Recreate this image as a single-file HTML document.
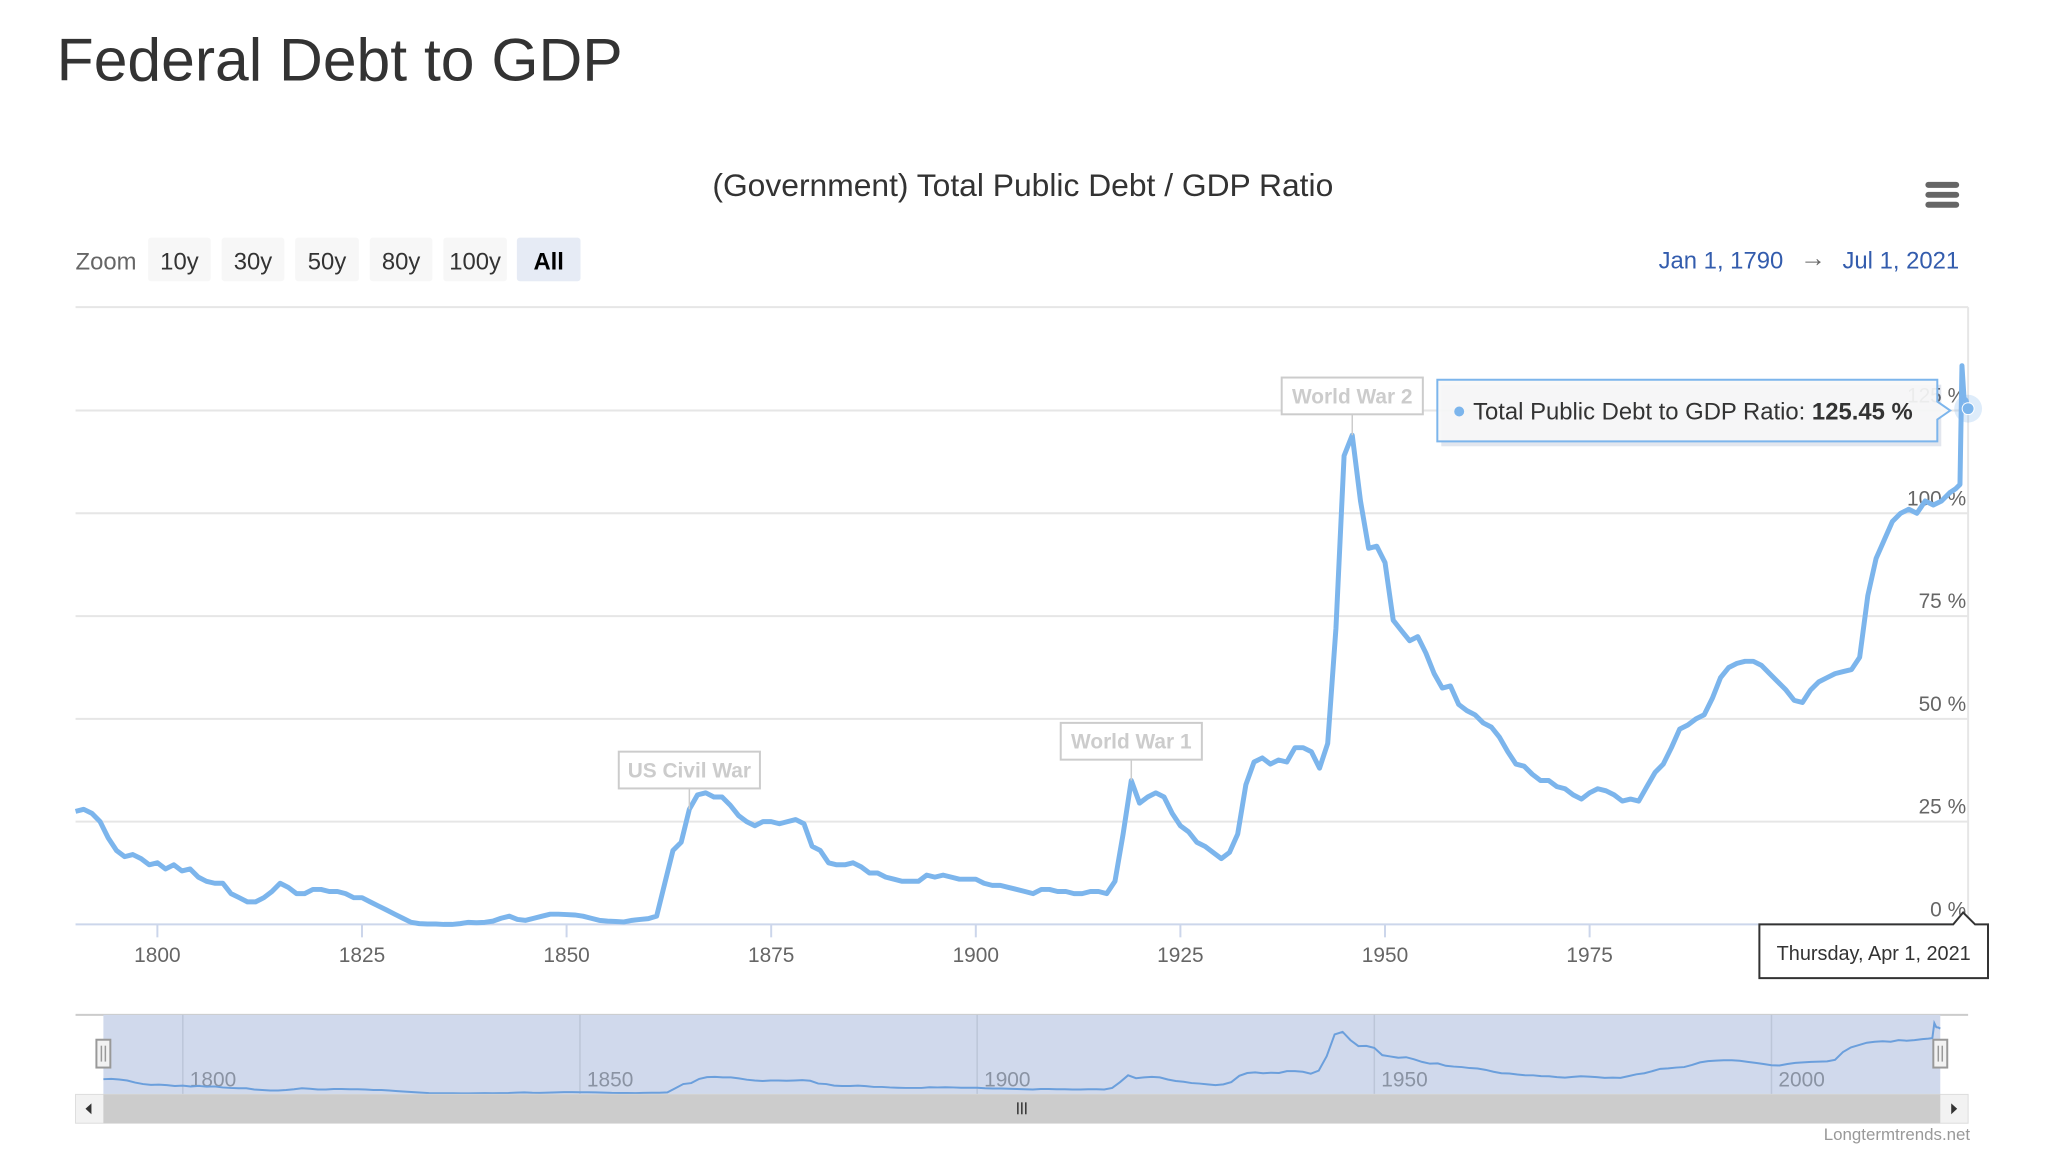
<!DOCTYPE html>
<html><head><meta charset="utf-8">
<style>
html,body{margin:0;padding:0;background:#fff;width:2048px;height:1162px;overflow:hidden;font-family:"Liberation Sans",Arial,sans-serif}
svg{position:absolute;left:0;top:0}
</style></head>
<body>
<svg width="2048" height="1162" viewBox="0 0 2048 1162" xmlns="http://www.w3.org/2000/svg" font-family="Liberation Sans, Arial, sans-serif">
<g transform="scale(0.994)">
<text x="57" y="81" font-size="61" fill="#333">Federal Debt to GDP</text>
<text x="1029" y="197" font-size="32" fill="#333" text-anchor="middle">(Government) Total Public Debt / GDP Ratio</text>
<g fill="#666">
<rect x="1937" y="183" width="34" height="6" rx="3"/><rect x="1937" y="193" width="34" height="6" rx="3"/><rect x="1937" y="203" width="34" height="6" rx="3"/>
</g>
<text x="76" y="271" font-size="24" fill="#666">Zoom</text>
<g font-size="24" text-anchor="middle">
<g><rect x="149" y="239" width="63" height="44" rx="3" fill="#f7f7f7"/><text x="180.5" y="271" fill="#333">10y</text></g>
<g><rect x="223" y="239" width="63" height="44" rx="3" fill="#f7f7f7"/><text x="254.5" y="271" fill="#333">30y</text></g>
<g><rect x="297" y="239" width="64" height="44" rx="3" fill="#f7f7f7"/><text x="329" y="271" fill="#333">50y</text></g>
<g><rect x="372" y="239" width="63" height="44" rx="3" fill="#f7f7f7"/><text x="403.5" y="271" fill="#333">80y</text></g>
<g><rect x="446" y="239" width="64" height="44" rx="3" fill="#f7f7f7"/><text x="478" y="271" fill="#333">100y</text></g>
<g><rect x="520" y="239" width="64" height="44" rx="3" fill="#e6ebf5"/><text x="552" y="271" fill="#000" font-weight="bold">All</text></g>
</g>
<text x="1794" y="270" font-size="24" fill="#335cad" text-anchor="end">Jan 1, 1790</text>
<text x="1824" y="268" font-size="26" fill="#666" text-anchor="middle">→</text>
<text x="1971" y="270" font-size="24" fill="#335cad" text-anchor="end">Jul 1, 2021</text>
<g id="grid"></g>
<g id="xaxis"></g>
<g id="series"></g>
<g id="annotations"></g>
<g id="nav"></g>
<g id="tips"></g>
<text x="1982" y="1147" font-size="17" fill="#999" text-anchor="end">Longtermtrends.net</text>
</g>
</svg>
<script>
const years = [1790,1791,1792,1793,1794,1795,1796,1797,1798,1799,1800,1801,1802,1803,1804,1805,1806,1807,1808,1809,1810,1811,1812,1813,1814,1815,1816,1817,1818,1819,1820,1821,1822,1823,1824,1825,1826,1827,1828,1829,1830,1831,1832,1833,1834,1835,1836,1837,1838,1839,1840,1841,1842,1843,1844,1845,1846,1847,1848,1849,1850,1851,1852,1853,1854,1855,1856,1857,1858,1859,1860,1861,1862,1863,1864,1865,1866,1867,1868,1869,1870,1871,1872,1873,1874,1875,1876,1877,1878,1879,1880,1881,1882,1883,1884,1885,1886,1887,1888,1889,1890,1891,1892,1893,1894,1895,1896,1897,1898,1899,1900,1901,1902,1903,1904,1905,1906,1907,1908,1909,1910,1911,1912,1913,1914,1915,1916,1917,1918,1919,1920,1921,1922,1923,1924,1925,1926,1927,1928,1929,1930,1931,1932,1933,1934,1935,1936,1937,1938,1939,1940,1941,1942,1943,1944,1945,1946,1947,1948,1949,1950,1951,1952,1953,1954,1955,1956,1957,1958,1959,1960,1961,1962,1963,1964,1965,1966,1967,1968,1969,1970,1971,1972,1973,1974,1975,1976,1977,1978,1979,1980,1981,1982,1983,1984,1985,1986,1987,1988,1989,1990,1991,1992,1993,1994,1995,1996,1997,1998,1999,2000,2001,2002,2003,2004,2005,2006,2007,2008,2009,2010,2011,2012,2013,2014,2015,2016,2017,2018,2019,2019.75,2020.25,2020.5,2020.75,2021,2021.25];
const debtRatio = [27.5,28,27,25,21,18,16.5,17,16,14.5,15,13.5,14.5,13,13.5,11.5,10.5,10,10,7.5,6.5,5.5,5.5,6.5,8,10,9,7.5,7.5,8.5,8.5,8,8,7.5,6.5,6.5,5.5,4.5,3.5,2.5,1.5,0.5,0.2,0.1,0.1,0,0,0.2,0.5,0.4,0.5,0.8,1.5,2,1.2,1,1.5,2,2.5,2.5,2.4,2.3,2,1.5,1,0.8,0.7,0.6,1,1.2,1.4,2,10,18,20,28,31.5,32,31,31,29,26.5,25,24,25,25,24.5,25,25.5,24.5,19,18,15,14.5,14.5,15,14,12.5,12.5,11.5,11,10.5,10.5,10.5,12,11.5,12,11.5,11,11,11,10,9.5,9.5,9,8.5,8,7.5,8.5,8.5,8,8,7.5,7.5,8,8,7.5,10.5,22,35,29.5,31,32,31,27,24,22.5,20,19,17.5,16,17.5,22,34,39.5,40.5,39,40,39.5,43,43,42,38,44,72,114,119,103,91.5,92,88,74,71.5,69,70,66,61,57.5,58,53.5,52,51,49,48,45.5,42,39,38.5,36.5,35,35,33.5,33,31.5,30.5,32,33,32.5,31.5,30,30.5,30,33.5,37,39,43,47.5,48.5,50,51,55,60,62.5,63.5,64,64,63,61,59,57,54.5,54,57,59,60,61,61.5,62,65,80,89,93.5,98,100,101,100,103,102,103,105,106,107,135.9,128,127.5,125.45];
const yTicks = [0,25,50,75,100,125];
const xTicks = [1800,1825,1850,1875,1900,1925,1950,1975,2000];
const navTicks = [1800,1850,1900,1950,2000];
const eventNames = ["US Civil War","World War 1","World War 2"];
const eventYears = [1865,1919,1946];
const eventSlugs = ["us-civil-war","world-war-1","world-war-2"];

const NS="http://www.w3.org/2000/svg";
function el(tag,attrs,parent,text){const e=document.createElementNS(NS,tag);for(const k in attrs)e.setAttribute(k,attrs[k]);if(text!==undefined)e.textContent=text;parent.appendChild(e);return e;}
const X0=1790,X1=2021.25,PL=76,PR=1980;
const xs=v=>PL+(v-X0)/(X1-X0)*(PR-PL);
const ys=v=>930-v*4.136;
const NL=104,NR=1952;
const nx=v=>NL+(v-X0)/(X1-X0)*(NR-NL);
const ny=v=>1100-v*0.52;

const grid=document.getElementById('grid');


el('line',{x1:PL,x2:PR,y1:309,y2:309,stroke:'#e6e6e6','stroke-width':2},grid);
el('line',{x1:PR,x2:PR,y1:309,y2:930,stroke:'#e6e6e6','stroke-width':2},grid);
yTicks.forEach(t=>{
  const l=el('line',{x1:PL,x2:PR,y1:ys(t),y2:ys(t),stroke:t===0?'#ccd6eb':'#e6e6e6','stroke-width':2},grid);
  
  
  const tx=el('text',{x:1978,y:ys(t)-8,'font-size':21,fill:'#666','text-anchor':'end'},grid,t+' %');
  
  
});
const xa=document.getElementById('xaxis');


xTicks.forEach(t=>{
  el('line',{x1:xs(t),x2:xs(t),y1:930,y2:943,stroke:'#ccd6eb','stroke-width':2},xa);
  const tx=el('text',{x:xs(t),y:968,'font-size':21,fill:'#666','text-anchor':'middle'},xa,String(t));
  
  
});
const sg=document.getElementById('series');
let d='';years.forEach((y,i)=>{d+=(i?'L':'M')+xs(y).toFixed(1)+' '+ys(debtRatio[i]).toFixed(1);});
const line=el('path',{d:d,fill:'none',stroke:'#7cb5ec','stroke-width':5,'stroke-linejoin':'round'},sg);


const li=years.length-1;
const halo=el('circle',{cx:xs(years[li]),cy:ys(debtRatio[li]),r:14,fill:'#7cb5ec','fill-opacity':0.25},sg);


const pt=el('circle',{cx:xs(years[li]),cy:ys(debtRatio[li]),r:6,fill:'#7cb5ec',stroke:'#fff','stroke-width':1},sg);



const an=document.getElementById('annotations');
eventNames.forEach((n,i)=>{
  const yr=eventYears[i];const idx=years.indexOf(yr);
  const cx=xs(yr),top=ys(debtRatio[idx]);
  const g=el('g',{},an);
  
  
  const by=top-58;
  el('line',{x1:cx,x2:cx,y1:by+37,y2:top,stroke:'#ccc','stroke-width':1.5},g);
  el('rect',{x:cx-71,y:by,width:142,height:37,fill:'#fff',stroke:'#ccc','stroke-width':2},g);
  el('text',{x:cx,y:by+26,'font-size':21,'font-weight':'bold',fill:'#ccc','text-anchor':'middle'},g,n);
});

const nav=document.getElementById('nav');


el('line',{x1:76,x2:1980,y1:1021,y2:1021,stroke:'#ccc','stroke-width':2},nav);
el('rect',{x:NL,y:1021,width:NR-NL,height:80,fill:'#d0d9ec'},nav);
navTicks.forEach(t=>{
  el('line',{x1:nx(t),x2:nx(t),y1:1021,y2:1101,stroke:'#bcc6d8','stroke-width':1.5},nav);
  const tx=el('text',{x:nx(t)+7,y:1093,'font-size':21,fill:'#8a93a3'},nav,String(t));
  
  
});
let nd='';years.forEach((y,i)=>{nd+=(i?'L':'M')+nx(y).toFixed(1)+' '+ny(debtRatio[i]).toFixed(1);});
const nl=el('path',{d:nd,fill:'none',stroke:'#6b9fdc','stroke-width':2},nav);


[NL,NR].forEach((hx,k)=>{
  const h=el('g',{},nav);
  
  
  el('rect',{x:hx-7,y:1046,width:14,height:28,fill:'#f2f2f2',stroke:'#999','stroke-width':2},h);
  el('line',{x1:hx-2,x2:hx-2,y1:1052,y2:1068,stroke:'#999','stroke-width':1.5},h);
  el('line',{x1:hx+2,x2:hx+2,y1:1052,y2:1068,stroke:'#999','stroke-width':1.5},h);
});
const sb=el('g',{},nav);


el('rect',{x:76,y:1101,width:1904,height:29,fill:'#f2f2f2',stroke:'#ddd'},sb);
el('rect',{x:NL,y:1101,width:NR-NL,height:29,fill:'#cccccc'},sb);
el('path',{d:'M92 1110 L86 1115.5 L92 1121 Z',fill:'#333'},sb);
el('path',{d:'M1963 1110 L1969 1115.5 L1963 1121 Z',fill:'#333'},sb);
[-4,0,4].forEach(o=>el('line',{x1:1028+o,x2:1028+o,y1:1109,y2:1121,stroke:'#333','stroke-width':1.5},sb));

const tp=document.getElementById('tips');
const t1=el('g',{},tp);


el('rect',{x:1448,y:385,width:503,height:62,fill:'#3a5a8c','fill-opacity':0.15,transform:'translate(2,2)'},t1);
el('path',{d:'M1446 382 L1949 382 L1949 404 L1962 413 L1949 422 L1949 444 L1446 444 Z',fill:'#f7f7f7','fill-opacity':0.92,stroke:'#7cb5ec','stroke-width':2},t1);
el('circle',{cx:1468,cy:414,r:5,fill:'#7cb5ec'},t1);
const tt=el('text',{x:1482,y:422,'font-size':24,fill:'#333'},t1,'Total Public Debt to GDP Ratio:  ');
const tb=el('tspan',{'font-weight':'bold'},tt,debtRatio[li].toFixed(2)+' %');
const t2=el('g',{},tp);


el('path',{d:'M1770 930 L1965 930 L1975 918 L1987 930 L2000 930 L2000 984 L1770 984 Z',fill:'#fff',stroke:'#333','stroke-width':2},t2);
el('text',{x:1885,y:966,'font-size':20,fill:'#333','text-anchor':'middle'},t2,'Thursday, Apr 1, 2021');
</script>
</body></html>
